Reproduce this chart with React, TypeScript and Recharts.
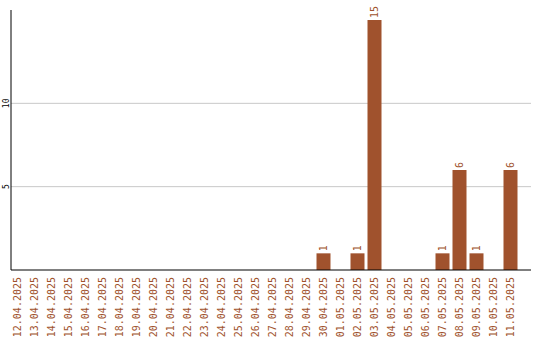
import React from 'react';
import { BarChart, Bar, XAxis, YAxis, CartesianGrid, LabelList } from 'recharts';

const categories = [
  '12.04.2025', '13.04.2025', '14.04.2025', '15.04.2025', '16.04.2025', '17.04.2025',
  '18.04.2025', '19.04.2025', '20.04.2025', '21.04.2025', '22.04.2025', '23.04.2025',
  '24.04.2025', '25.04.2025', '26.04.2025', '27.04.2025', '28.04.2025', '29.04.2025',
  '30.04.2025', '01.05.2025', '02.05.2025', '03.05.2025', '04.05.2025', '05.05.2025',
  '06.05.2025', '07.05.2025', '08.05.2025', '09.05.2025', '10.05.2025', '11.05.2025',
];
const values = [
  0, 0, 0, 0, 0, 0, 0, 0, 0, 0, 0, 0, 0, 0, 0, 0, 0, 0,
  1, 0, 1, 15, 0, 0, 0, 1, 6, 1, 0, 6,
];
const yTicks = [5, 10];

const data = categories.map((c, i) => ({ date: c, value: values[i] }));

const BROWN = '#A0522D';
const FONT = '"DejaVu Sans Mono", monospace';

const XTick = (props: any) => {
  const { x, y, payload } = props;
  return (
    <text
      x={x}
      y={y + 7}
      transform={`rotate(-90, ${x}, ${y + 7})`}
      textAnchor="end"
      dy="0.35em"
      fill={BROWN}
      fontFamily={FONT}
      fontSize={10}
    >
      {payload.value}
    </text>
  );
};

const YTick = (props: any) => {
  const { y, payload } = props;
  const x = 6;
  return (
    <text
      x={x}
      y={y}
      transform={`rotate(-90, ${x}, ${y})`}
      textAnchor="middle"
      dy="0.35em"
      fill="#000"
      fontFamily={FONT}
      fontSize={8}
    >
      {payload.value}
    </text>
  );
};

const ValueLabel = (props: any) => {
  const { x, y, width, value } = props;
  if (!value) return null;
  const cx = x + width / 2;
  const ty = y - 2;
  return (
    <text
      x={cx}
      y={ty}
      transform={`rotate(-90, ${cx}, ${ty})`}
      textAnchor="start"
      dy="0.35em"
      fill={BROWN}
      fontFamily={FONT}
      fontSize={10}
    >
      {value}
    </text>
  );
};

export default function App() {
  return (
    <div style={{ position: 'absolute', left: 0, top: 0 }}>
      <BarChart
        width={540}
        height={340}
        data={data}
        margin={{ top: 10, right: 9, bottom: 0, left: 0 }}
      >
        <CartesianGrid vertical={false} stroke="#C8C8C8" horizontalValues={yTicks} />
        <XAxis
          dataKey="date"
          interval={0}
          height={70}
          tickLine={false}
          tickSize={0}
          tickMargin={0}
          axisLine={{ stroke: '#000' }}
          padding={{ left: -2.5, right: 12.5 }}
          tick={<XTick />}
        />
        <YAxis
          width={11}
          domain={[0, 15.6]}
          ticks={yTicks}
          tickLine={false}
          axisLine={{ stroke: '#000' }}
          tick={<YTick />}
        />
        <Bar dataKey="value" fill={BROWN} barSize={14} isAnimationActive={false}>
          <LabelList dataKey="value" content={<ValueLabel />} />
        </Bar>
      </BarChart>
    </div>
  );
}
